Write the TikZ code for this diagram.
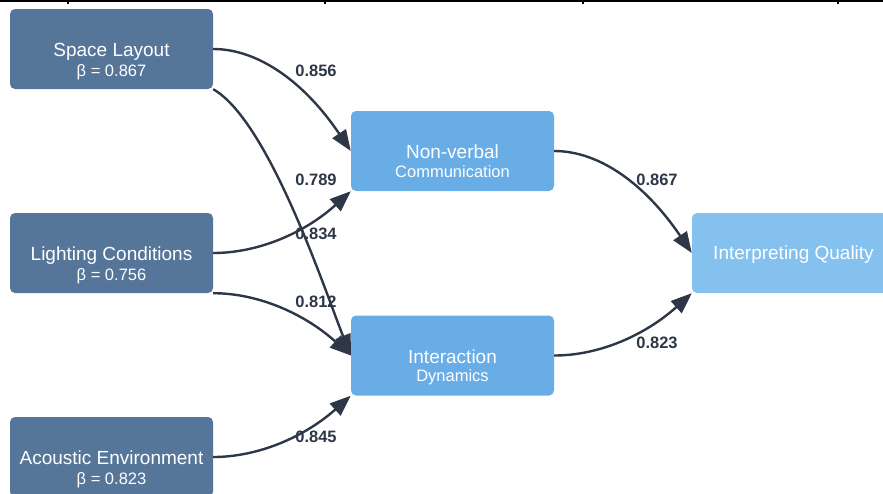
\documentclass[tikz,border=0pt]{standalone}
\usepackage{fontspec}
\setmainfont{Liberation Sans}
\usetikzlibrary{arrows.meta,calc}
\definecolor{srcbox}{HTML}{557599}
\definecolor{midbox}{HTML}{68ADE6}
\definecolor{outbox}{HTML}{85C1EF}
\definecolor{edgec}{HTML}{2D3748}
\begin{document}
\begin{tikzpicture}[x=1pt,y=-1pt,
  box/.style={rounded corners=5pt, minimum width=203pt, minimum height=80pt, inner sep=0pt},
  srcnode/.style={box, fill=srcbox},
  midnode/.style={box, fill=midbox},
  outcome/.style={box, fill=outbox},
  maintext/.style={text=white, font=\fontsize{19}{22}\selectfont, anchor=base, inner sep=0pt},
  subtext/.style={text=white, font=\fontsize{16.5}{19}\selectfont, anchor=base, inner sep=0pt},
  link/.style={draw=edgec, line width=2.4pt, -{Triangle[length=21pt,width=16pt]}},
  wlabel/.style={text=edgec, font=\fontsize{16.5}{19}\selectfont\bfseries, inner sep=0pt}]
\useasboundingbox (0,0) rectangle (883,493);
% top border remnant
\coordinate (tl) at (0,1);
\coordinate (tr) at (883,1);
\draw[line width=2pt] (tl) -- (tr);
\foreach \x in {68,325,583,838} \draw[line width=1.6pt] (\x,0) -- (\x,4);
% boxes
\node[srcnode] (sl) at (111.5,49) {};
\node[srcnode] (lc) at (111.5,253) {};
\node[srcnode] (ae) at (111.5,457) {};
\node[midnode] (nv) at (452.5,151) {};
\node[midnode] (id) at (452.5,355.5) {};
\node[outcome] (iq) at (793.5,253) {};
% texts
\node[maintext] (sl1) at ($(sl.center)+(0,7)$) {Space Layout};
\node[subtext] (sl2) at ($(sl.center)+(0,27)$) {β = 0.867};
\node[maintext] (lc1) at ($(lc.center)+(0,7)$) {Lighting Conditions};
\node[subtext] (lc2) at ($(lc.center)+(0,27)$) {β = 0.756};
\node[maintext] (ae1) at ($(ae.center)+(0,7)$) {Acoustic Environment};
\node[subtext] (ae2) at ($(ae.center)+(0,27)$) {β = 0.823};
\node[maintext] (nv1) at ($(nv.center)+(0,7)$) {Non-verbal};
\node[subtext] (nv2) at ($(nv.center)+(0,26)$) {Communication};
\node[maintext] (id1) at ($(id.center)+(0,7.5)$) {Interaction};
\node[subtext] (id2) at ($(id.center)+(0,25.5)$) {Dynamics};
\node[maintext] (iq1) at ($(iq.center)+(0,6.5)$) {Interpreting Quality};
% connectors
\draw[link] (sl.east) .. controls +(45.7,0) and +(-45.7,-68) .. (nv.west);
\draw[link] (sl.south east) .. controls +(56,32) and +(-25,-62.5) .. (id.west);
\draw[link] (lc.east) .. controls +(45.7,0) and +(-45.7,41.3) .. (nv.south west);
\draw[link] (lc.south east) .. controls +(45.7,0) and +(-45.7,-41.3) .. (id.west);
\draw[link] (ae.east) .. controls +(45.7,0) and +(-45.7,40.7) .. (id.south west);
\draw[link] (nv.east) .. controls +(46,0) and +(-46,-68) .. (iq.west);
\draw[link] (id.east) .. controls +(46,0) and +(-46,41.3) .. (iq.south west);
% weights
\node[wlabel] (w1) at (316,71) {0.856};
\node[wlabel] (w2) at (316,180) {0.789};
\node[wlabel] (w3) at (316,234) {0.834};
\node[wlabel] (w4) at (316,302) {0.812};
\node[wlabel] (w5) at (316,437) {0.845};
\node[wlabel] (w6) at (657,180) {0.867};
\node[wlabel] (w7) at (657,343) {0.823};
\end{tikzpicture}
\end{document}
